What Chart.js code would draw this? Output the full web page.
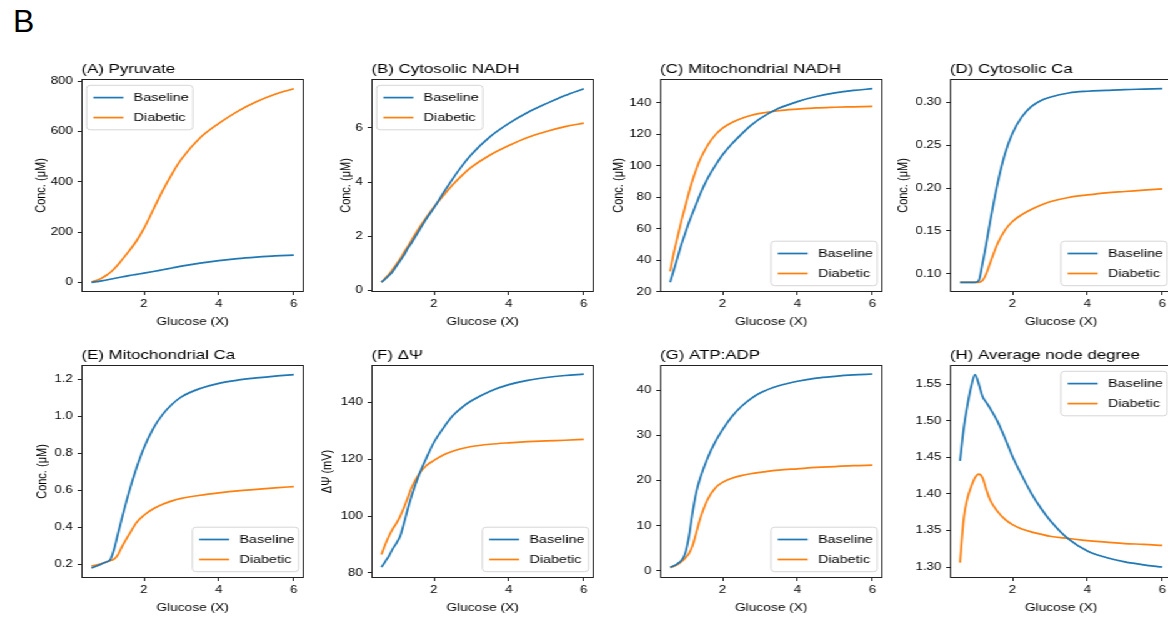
<!DOCTYPE html>
<html>
<head>
<meta charset="utf-8">
<script src="https://cdn.jsdelivr.net/npm/chart.js@4.4.0/dist/chart.umd.min.js"></script>
<style>
  html, body { margin: 0; padding: 0; background: #fff; overflow: hidden; }
  body { width: 1168px; height: 618px; position: relative; }
  #panelLabel { position: absolute; left: 13px; top: 5px; font: 32px "Liberation Sans", Arial, sans-serif; line-height: 1; color: #000; }
  /* the figure is drawn at 1/1.25 width and stretched back out */
  #figure { position: absolute; left: 0; top: 0; width: 935px; height: 618px; transform: scaleX(1.25); transform-origin: 0 0; }
  #figure canvas { position: absolute; }
</style>
</head>
<body>
<div id="panelLabel">B</div>
<div id="figure"></div>
<script>
// glucose level (X), shared by all panels
const glucose = [0.6, 0.7, 0.8, 0.9, 1.0, 1.1, 1.2, 1.3, 1.4, 1.6, 1.8, 2.0, 2.25, 2.5, 2.75, 3.0, 3.5, 4.0, 4.5, 5.0, 5.5, 6.0];

const pyruvateBaseline = [1, 3, 5, 7.5, 10, 13, 16, 19, 22, 27.5, 32.5, 37.5, 44, 51, 58, 65, 77, 87, 95, 101, 106, 109];
const pyruvateDiabetic = [3, 7, 12, 20, 29, 40, 54, 70, 88, 125, 165, 215, 290, 365, 432, 490, 575, 632, 680, 718, 748, 770];
const cytoNadhBaseline = [0.3, 0.42, 0.55, 0.7, 0.9, 1.1, 1.3, 1.55, 1.75, 2.2, 2.65, 3.05, 3.6, 4.12, 4.6, 5.02, 5.68, 6.17, 6.57, 6.9, 7.2, 7.45];
const cytoNadhDiabetic = [0.3, 0.45, 0.6, 0.78, 0.97, 1.17, 1.4, 1.62, 1.85, 2.3, 2.7, 3.08, 3.5, 3.9, 4.25, 4.55, 5.0, 5.35, 5.65, 5.87, 6.05, 6.18];
const mitoNadhBaseline = [26, 34, 42, 50, 57, 64, 70, 76, 82, 92, 100, 107, 114, 120, 125.5, 130, 136.5, 140.8, 144, 146.3, 147.9, 149];
const mitoNadhDiabetic = [33, 45, 55, 65, 74, 83, 91, 98, 104, 113, 119.5, 124, 127.5, 130, 132, 133.3, 135, 136, 136.8, 137.2, 137.5, 137.8];
const cytoCaBaseline = [0.09, 0.09, 0.09, 0.09, 0.09, 0.092, 0.112, 0.135, 0.160, 0.205, 0.240, 0.264, 0.283, 0.295, 0.302, 0.306, 0.311, 0.313, 0.314, 0.315, 0.3155, 0.316];
const cytoCaDiabetic = [0.09, 0.09, 0.09, 0.09, 0.09, 0.09, 0.092, 0.100, 0.112, 0.135, 0.151, 0.161, 0.169, 0.175, 0.180, 0.184, 0.189, 0.192, 0.1945, 0.196, 0.1975, 0.199];
const mitoCaBaseline = [0.18, 0.188, 0.195, 0.205, 0.213, 0.225, 0.28, 0.36, 0.44, 0.59, 0.72, 0.83, 0.935, 1.01, 1.065, 1.105, 1.15, 1.178, 1.195, 1.207, 1.217, 1.225];
const mitoCaDiabetic = [0.19, 0.195, 0.2, 0.205, 0.212, 0.22, 0.228, 0.25, 0.29, 0.36, 0.425, 0.465, 0.5, 0.525, 0.543, 0.556, 0.573, 0.586, 0.597, 0.605, 0.613, 0.62];
const psiBaseline = [82, 84, 86, 88.5, 90.5, 93, 97.5, 102.5, 107, 114.5, 120.5, 126, 131, 135.3, 138.3, 140.6, 144, 146.3, 147.8, 148.8, 149.5, 150];
const psiDiabetic = [86.5, 90, 93, 95.5, 97.5, 100, 103, 106.5, 110, 114.8, 117.8, 119.6, 121.5, 122.8, 123.8, 124.5, 125.3, 125.8, 126.2, 126.5, 126.7, 127];
const atpAdpBaseline = [0.8, 1.1, 1.6, 2.3, 3.8, 7.5, 13, 17.5, 20.5, 25, 28.5, 31.3, 34.2, 36.4, 38.1, 39.4, 41.0, 42.0, 42.7, 43.1, 43.4, 43.6];
const atpAdpDiabetic = [0.7, 1.0, 1.4, 2.0, 2.8, 3.8, 5.6, 8.5, 11.5, 15.8, 18.3, 19.6, 20.5, 21.1, 21.5, 21.8, 22.3, 22.6, 22.9, 23.1, 23.3, 23.4];
const degreeBaseline = [1.445, 1.49, 1.522, 1.547, 1.563, 1.55, 1.533, 1.525, 1.517, 1.499, 1.476, 1.451, 1.425, 1.401, 1.381, 1.364, 1.338, 1.322, 1.313, 1.307, 1.303, 1.300];
const degreeDiabetic = [1.306, 1.367, 1.3945, 1.41, 1.422, 1.427, 1.422, 1.406, 1.392, 1.376, 1.365, 1.358, 1.352, 1.348, 1.345, 1.342, 1.339, 1.336, 1.334, 1.332, 1.331, 1.3295];

// tick labels
const xTicks = [2, 4, 6];
const pyruvateTicks = [0, 200, 400, 600, 800];
const cytoNadhTicks = [0, 2, 4, 6];
const mitoNadhTicks = [20, 40, 60, 80, 100, 120, 140];
const cytoCaTicks = [0.10, 0.15, 0.20, 0.25, 0.30];
const mitoCaTicks = [0.2, 0.4, 0.6, 0.8, 1.0, 1.2];
const psiTicks = [80, 100, 120, 140];
const atpAdpTicks = [0, 10, 20, 30, 40];
const degreeTicks = [1.30, 1.35, 1.40, 1.45, 1.50, 1.55];

const BLUE = '#1f77b4';
const ORANGE = '#ff7f0e';
const TEXT = '#000';
const AXIS = '#222';
const FONT = '"Liberation Sans", Arial, sans-serif';

Chart.defaults.font.family = FONT;

const COLS = [14.8, 246.8, 478, 710];
const ROWS = [49, 335];

const panels = [
  { title: '(A) Pyruvate', yTitle: 'Conc. (μM)', base: pyruvateBaseline, diab: pyruvateDiabetic, ticks: pyruvateTicks, yMin: -37.5, yMax: 808.5, dec: 0, yWidth: 42.6, legend: 'ul', col: 0, row: 0 },
  { title: '(B) Cytosolic NADH', yTitle: 'Conc. (μM)', base: cytoNadhBaseline, diab: cytoNadhDiabetic, ticks: cytoNadhTicks, yMin: -0.06, yMax: 7.81, dec: 0, yWidth: 31, legend: 'ul', col: 1, row: 0 },
  { title: '(C) Mitochondrial NADH', yTitle: 'Conc. (μM)', base: mitoNadhBaseline, diab: mitoNadhDiabetic, ticks: mitoNadhTicks, yMin: 19.85, yMax: 155.15, dec: 0, yWidth: 43.4, legend: 'lr', col: 2, row: 0 },
  { title: '(D) Cytosolic Ca', yTitle: 'Conc. (μM)', base: cytoCaBaseline, diab: cytoCaDiabetic, ticks: cytoCaTicks, yMin: 0.0787, yMax: 0.3273, dec: 2, yWidth: 47.4, legend: 'lr', col: 3, row: 0 },
  { title: '(E) Mitochondrial Ca', yTitle: 'Conc. (μM)', base: mitoCaBaseline, diab: mitoCaDiabetic, ticks: mitoCaTicks, yMin: 0.126, yMax: 1.277, dec: 1, yWidth: 41.4, legend: 'lr', col: 0, row: 1 },
  { title: '(F) ΔΨ', yTitle: 'ΔΨ (mV)', base: psiBaseline, diab: psiDiabetic, ticks: psiTicks, yMin: 78.2, yMax: 153.2, dec: 0, yWidth: 45.8, legend: 'lr', col: 1, row: 1 },
  { title: '(G) ATP:ADP', yTitle: '', base: atpAdpBaseline, diab: atpAdpDiabetic, ticks: atpAdpTicks, yMin: -1.6, yMax: 45.6, dec: 0, yWidth: 40, legend: 'lr', col: 2, row: 1 },
  { title: '(H) Average node degree', yTitle: '', base: degreeBaseline, diab: degreeDiabetic, ticks: degreeTicks, yMin: 1.285, yMax: 1.576, dec: 2, yWidth: 40, legend: 'ur', col: 3, row: 1 }
];

function toPoints(values)
{
    return glucose.map((g, i) => ({ x: g, y: values[i] }));
}

// black box around the plotting area
const frame = {
    id: 'frame',
    afterDraw(chart) {
        const { ctx, chartArea: a } = chart;
        ctx.save();
        ctx.strokeStyle = AXIS;
        ctx.lineWidth = 1;
        const l = Math.round(a.left) + 0.5, t = Math.round(a.top) + 0.5;
        const r = Math.round(a.right) - 0.5, b = Math.round(a.bottom) - 0.5;
        ctx.strokeRect(l, t, r - l, b - t);
        ctx.restore();
    }
};

// legend box drawn inside the plotting area, in one corner
const insideLegend = {
    id: 'insideLegend',
    afterDraw(chart, args, opts) {
        const { ctx, chartArea: a } = chart;
        const w = 85, h = 44.5, padX = 4.2, padY = 6.3;
        const left = opts.corner[1] === 'l' ? a.left + padX : a.right - padX - w;
        const top = opts.corner[0] === 'u' ? a.top + padY : a.bottom - padY - h;
        const r = 3;

        ctx.save();
        ctx.beginPath();
        ctx.moveTo(left + r, top);
        ctx.lineTo(left + w - r, top);
        ctx.arcTo(left + w, top, left + w, top + r, r);
        ctx.lineTo(left + w, top + h - r);
        ctx.arcTo(left + w, top + h, left + w - r, top + h, r);
        ctx.lineTo(left + r, top + h);
        ctx.arcTo(left, top + h, left, top + h - r, r);
        ctx.lineTo(left, top + r);
        ctx.arcTo(left, top, left + r, top, r);
        ctx.closePath();
        ctx.fillStyle = 'rgba(255,255,255,0.8)';
        ctx.fill();
        ctx.strokeStyle = '#d6d6d6';
        ctx.lineWidth = 1;
        ctx.stroke();

        ctx.font = '11.5px ' + FONT;
        ctx.textBaseline = 'middle';
        ctx.textAlign = 'left';
        chart.data.datasets.forEach((ds, i) => {
            const y = top + 12.3 + i * 20;
            ctx.strokeStyle = ds.borderColor;
            ctx.lineWidth = 1.7;
            ctx.beginPath();
            ctx.moveTo(left + 5.4, y);
            ctx.lineTo(left + 29.4, y);
            ctx.stroke();
            ctx.fillStyle = TEXT;
            ctx.fillText(ds.label, left + 37.6, y);
        });
        ctx.restore();
    }
};

function drawPanel(p)
{
    const canvas = document.createElement('canvas');
    canvas.width = 238;
    canvas.height = 284;
    canvas.style.left = COLS[p.col] + 'px';
    canvas.style.top = ROWS[p.row] + 'px';
    document.getElementById('figure').appendChild(canvas);

    const lineStyle = { borderWidth: 1.7, pointRadius: 0, fill: false, cubicInterpolationMode: 'monotone' };

    new Chart(canvas, {
        type: 'line',
        data: {
            datasets: [
                Object.assign({ label: 'Baseline', data: toPoints(p.base), borderColor: BLUE, backgroundColor: BLUE }, lineStyle),
                Object.assign({ label: 'Diabetic', data: toPoints(p.diab), borderColor: ORANGE, backgroundColor: ORANGE }, lineStyle)
            ]
        },
        options: {
            responsive: false,
            animation: false,
            devicePixelRatio: 1,
            layout: { padding: { left: 50 - p.yWidth, right: 10, top: 0, bottom: 0 } },
            plugins: {
                legend: { display: false },
                tooltip: { enabled: false },
                title: {
                    display: true,
                    text: p.title,
                    align: 'start',
                    fullSize: false,
                    color: TEXT,
                    font: { family: FONT, size: 13.5, weight: 'normal', lineHeight: 1.2 },
                    padding: { top: 12, bottom: 1.8 }
                },
                insideLegend: { corner: p.legend }
            },
            scales: {
                x: {
                    type: 'linear',
                    min: 0.33,
                    max: 6.27,
                    bounds: 'data',
                    afterBuildTicks: s => { s.ticks = xTicks.map(v => ({ value: v })); },
                    afterFit: s => { s.height = 41; },
                    grid: { drawOnChartArea: false, drawTicks: true, tickLength: 3, color: AXIS, lineWidth: 1 },
                    border: { display: false },
                    ticks: { color: TEXT, font: { size: 10.5 }, padding: 3, autoSkip: false, maxRotation: 0, callback: v => String(v) },
                    title: { display: true, text: 'Glucose (X)', color: TEXT, font: { size: 11 }, padding: { top: 0, bottom: 4 } }
                },
                y: {
                    type: 'linear',
                    min: p.yMin,
                    max: p.yMax,
                    bounds: 'data',
                    afterBuildTicks: s => { s.ticks = p.ticks.map(v => ({ value: v })); },
                    afterFit: s => { s.width = p.yWidth; },
                    grid: { drawOnChartArea: false, drawTicks: true, tickLength: 3, color: AXIS, lineWidth: 1 },
                    border: { display: false },
                    ticks: { color: TEXT, font: { size: 10.5 }, padding: 4, autoSkip: false, callback: v => v.toFixed(p.dec) },
                    title: { display: p.yTitle !== '', text: p.yTitle, color: TEXT, font: { size: 11 }, padding: { top: 4, bottom: 0 } }
                }
            }
        },
        plugins: [frame, insideLegend]
    });
}

panels.forEach(drawPanel);
</script>
</body>
</html>
